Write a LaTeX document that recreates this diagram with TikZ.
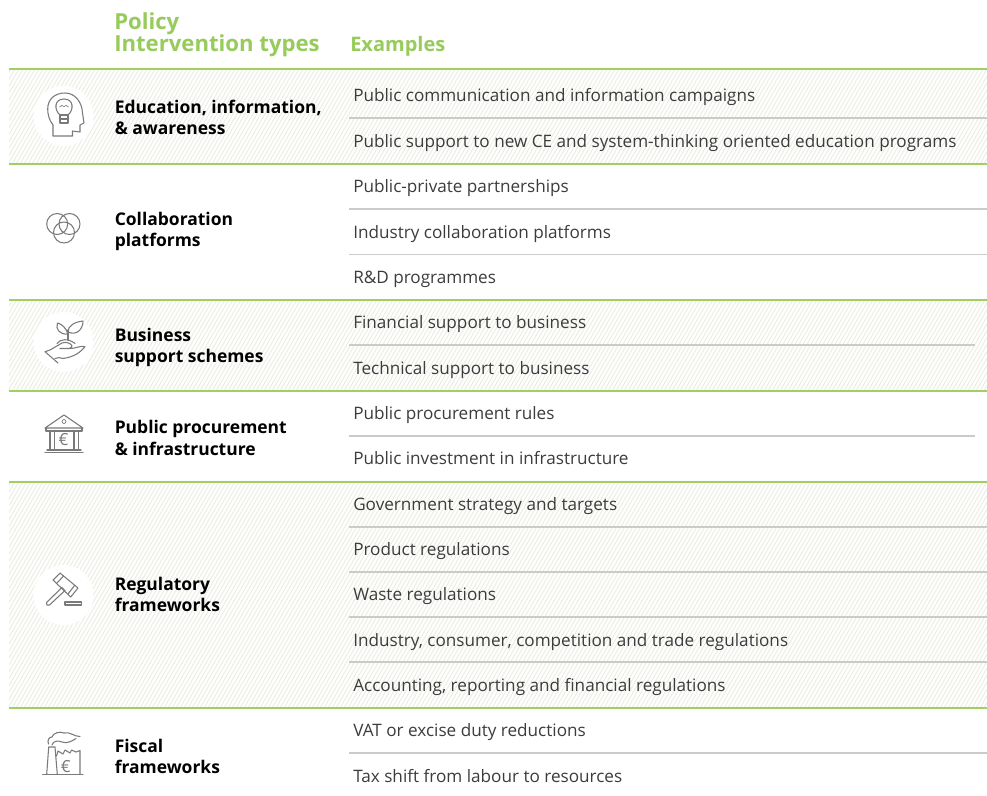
\documentclass[tikz,border=0pt]{standalone}
\usepackage{fontspec}
\setmainfont{Open Sans}
\definecolor{lgreen}{HTML}{A3CF62}
\definecolor{hgreen}{HTML}{97CB5B}
\definecolor{rulegrey}{HTML}{CBCBC8}
\definecolor{hatch}{HTML}{ECEEE5}
\definecolor{icongrey}{HTML}{7A7A7A}
\definecolor{txt}{HTML}{3C3C3C}
\tikzset{
  grule/.style={draw=lgreen,line width=1.5pt},
  srule/.style={draw=rulegrey,line width=0.8pt},
  ex/.style={anchor=base west,inner sep=0pt,font=\fontsize{12.85}{15}\selectfont,text=txt},
  cat/.style={anchor=base west,inner sep=0pt,font=\fontsize{13.1}{15}\selectfont\bfseries,text=black},
  head/.style={anchor=base west,inner sep=0pt,font=\fontsize{16.6}{18}\selectfont\bfseries,text=hgreen},
  disc/.style={fill=white,draw=none},
  ico/.style={draw=icongrey,line width=0.8pt,line join=round,line cap=round,fill=none},
}
\newcommand{\hatchband}[2]{%
  \begin{scope}
    \clip (9,#1) rectangle (987,#2);
    \foreach \k in {-45,...,250}{
      \draw[hatch,line width=0.75pt] (\k*4,#2) -- ++(140,-242);
    }
  \end{scope}}
\begin{document}
\begin{tikzpicture}[x=0.75pt,y=-0.75pt]
\useasboundingbox (0,0) rectangle (987,795);
\fill[white] (0,0) rectangle (987,795);
\hatchband{70}{164}
\hatchband{300}{391}
\hatchband{481}{708}
% rules
\foreach \y in {118,209,254.5,527,572,617,662,753}{\draw[srule] (349,\y) -- (987,\y);}
\foreach \y in {345,436}{\draw[srule] (349,\y) -- (975,\y);}
\foreach \y in {69.5,164,300,391,481.5,708}{\draw[grule] (9,\y) -- (987,\y);}
% headers
\node[head] (h1) at (114,30) {Policy};
\node[head] (h2) at (114,51.5) {Intervention types};
\node[head,font=\fontsize{15}{18}\selectfont\bfseries] (h3) at (350,51.5) {Examples};
% categories
\node[cat] (c1a) at (114.5,113.5) {Education, information,};
\node[cat] (c1b) at (114.5,134) {\& awareness};
\node[cat] (c2a) at (114.5,225) {Collaboration};
\node[cat] (c2b) at (114.5,246) {platforms};
\node[cat] (c3a) at (114.5,341) {Business};
\node[cat] (c3b) at (114.5,362) {support schemes};
\node[cat] (c4a) at (114.5,433) {Public procurement};
\node[cat] (c4b) at (114.5,455) {\& infrastructure};
\node[cat] (c5a) at (114.5,590) {Regulatory};
\node[cat] (c5b) at (114.5,611) {frameworks};
\node[cat] (c6a) at (114.5,752) {Fiscal};
\node[cat] (c6b) at (114.5,773) {frameworks};
% examples
\node[ex] (e1) at (353,102) {Public communication and information campaigns};
\node[ex] (e2) at (353,147) {Public support to new CE and system-thinking oriented education programs};
\node[ex] (e3) at (353,192) {Public-private partnerships};
\node[ex] (e4) at (353,238) {Industry collaboration platforms};
\node[ex] (e5) at (353,283) {R\&D programmes};
\node[ex] (e6) at (353,328) {Financial support to business};
\node[ex] (e7) at (353,374) {Technical support to business};
\node[ex] (e8) at (353,419) {Public procurement rules};
\node[ex] (e9) at (353,464) {Public investment in infrastructure};
\node[ex] (e10) at (353,510) {Government strategy and targets};
\node[ex] (e11) at (353,555) {Product regulations};
\node[ex] (e12) at (353,600) {Waste regulations};
\node[ex] (e13) at (353,646) {Industry, consumer, competition and trade regulations};
\node[ex] (e14) at (353,691) {Accounting, reporting and financial regulations};
\node[ex] (e15) at (353,736) {VAT or excise duty reductions};
\node[ex] (e16) at (353,782) {Tax shift from labour to resources};
% discs
\fill[disc] (63.5,116) circle (30);
\fill[disc] (63.5,342) circle (30);
\fill[disc] (63.5,595) circle (30);
% head icon
\draw[ico] (53,136) -- (53,125) .. controls (49,120) and (47.7,114) .. (47.7,109)
  .. controls (47.7,99) and (55,93) .. (65,93) .. controls (75,93) and (82,102) .. (82.5,113)
  -- (84,123) -- (80,125) -- (80,132) -- (72.5,131) -- (72.5,136) -- cycle;
\draw[ico] (60,115) .. controls (54,110) and (54,99) .. (64,99) .. controls (74,99) and (74,110) .. (68,115) -- cycle;
\draw[ico] (60,115) rectangle (68,123);
\draw[ico] (60,119) -- (68,119);
\draw[ico,line width=0.5pt] (59.5,107) .. controls (61,105) and (62.5,105) .. (64,106.5) .. controls (65.5,105) and (67,105) .. (68.5,107);
% venn icon
\draw[ico] (57.2,224) circle (10.5);
\draw[ico] (69.5,224) circle (10.5);
\draw[ico] (64,232.5) circle (10.5);
% plant hand icon
\draw[ico] (45,351.7) -- (50,350) -- (62,343) .. controls (66,341.5) and (70,343) .. (72,345.5) .. controls (72,347) and (71,348) .. (69,348.5) -- (60,348.5);
\draw[ico] (69,348.5) .. controls (75,349) and (81,345) .. (85,346.7) .. controls (81,352) and (74,357) .. (63,358.5) .. controls (60,357.5) and (58,357) .. (55,358.5);
\draw[ico] (45,351.7) -- (58,363);
\draw[ico] (57,343.5) .. controls (60,339) and (68,338) .. (75,343.5);
\draw[ico] (68,340) -- (68,330);
\draw[ico] (68,332) .. controls (68,326) and (74,322) .. (83,321) .. controls (83,329) and (77,336) .. (68,332) -- cycle;
\draw[ico] (68,334) .. controls (66,328) and (62,324) .. (57.5,323) .. controls (55,329) and (60,335) .. (68,334) -- cycle;
% bank icon
\draw[ico] (45,428) -- (64,415) -- (83,428) -- cycle;
\draw[ico] (46,428) -- (46,431) -- (82,431) -- (82,428);
\draw[ico] (50,431) -- (50,450);\draw[ico] (54.5,431) -- (54.5,450);
\draw[ico] (74,431) -- (74,450);\draw[ico] (78.5,431) -- (78.5,450);
\draw[ico] (45,452.7) -- (83,452.7);
\draw[ico] (47,450) -- (81,450);
\draw[ico,line width=0.5pt] (64,421.5) circle (2);
\node[inner sep=0pt,text=icongrey,font=\fontsize{12.5}{13}\selectfont] (eur1) at (63.5,440) {€};
% gavel icon
\draw[ico] (46.5,602.5) -- (62,587.5) -- (65,590.5) -- (49.5,605) .. controls (47.5,606.5) and (45.5,604.5) .. (46.5,602.5) -- cycle;
\draw[ico] (53,580) -- (60,573) -- (78,588) -- (70.7,597) -- cycle;
\draw[ico] (57,583) -- (63.5,576);
\draw[ico] (68,594) -- (74.5,585.5);
\draw[ico] (65,602) rectangle (81.5,605);
% factory icon
\draw[ico] (42.7,774.3) -- (83,774.3);
\draw[ico] (46.7,774.3) -- (48.7,747) -- (55,747) -- (57.3,774.3);
\draw[ico] (56.5,756) -- (58,751) -- (63,754) -- (65,750) -- (70,753) -- (71.5,750) -- (76,752) -- (80,750.5) -- (80,774.3);
\draw[ico] (48.5,744) .. controls (47,740) and (49,737) .. (52,737) .. controls (53,733) and (60,731) .. (64,733) .. controls (69,731) and (75,737) .. (80,736.5);
\draw[ico] (52,745) .. controls (53,741) and (58,740) .. (62,742) .. controls (67,744) and (72,741) .. (76,738.5);
\node[inner sep=0pt,text=icongrey,font=\fontsize{12.5}{13}\selectfont] (eur2) at (65.7,766.5) {€};
\end{tikzpicture}
\end{document}
